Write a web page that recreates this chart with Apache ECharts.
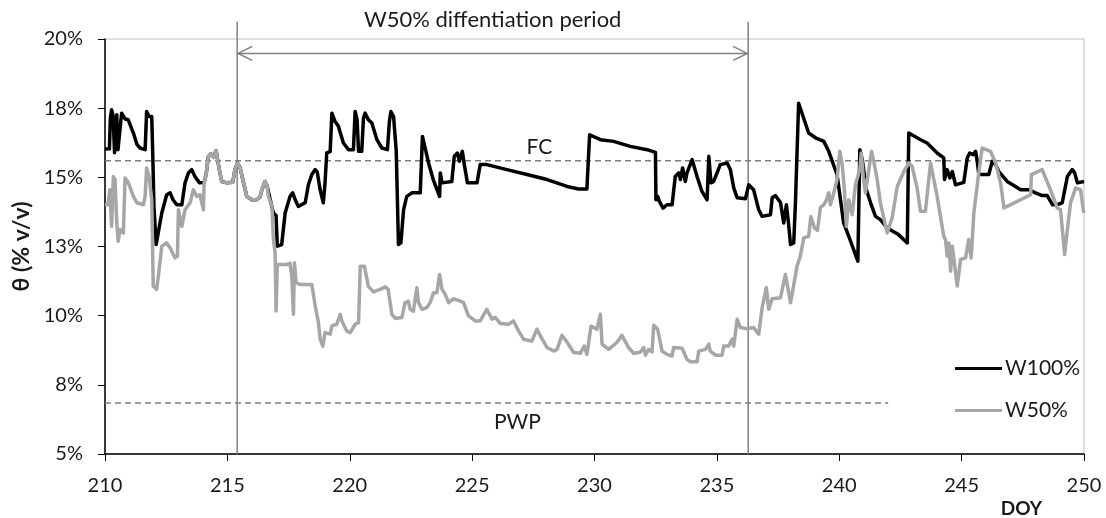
<!DOCTYPE html>
<html>
<head>
<meta charset="utf-8">
<script src="https://cdn.jsdelivr.net/npm/echarts@6/dist/echarts.min.js"></script>
<style>
  html, body { margin: 0; padding: 0; background: #fff; }
  #chart { width: 1106px; height: 518px; }
</style>
</head>
<body>
<div id="chart"></div>
<script>
// soil water content (% v/v) by day of year
const w100 = [
  [210.00, 16.02], [210.18, 16.03], [210.22, 17.15], [210.27, 17.44], [210.33, 17.22], [210.39, 15.89],
  [210.43, 15.89], [210.48, 17.26], [210.53, 16.00], [210.57, 15.93], [210.68, 17.32], [210.82, 17.11],
  [210.95, 17.08], [211.16, 16.60], [211.31, 16.18], [211.43, 16.06], [211.64, 16.00], [211.70, 17.38],
  [211.80, 17.20], [211.91, 17.20], [211.95, 15.88], [212.00, 15.82], [212.00, 13.95], [212.09, 12.57],
  [212.17, 12.64], [212.32, 13.71], [212.52, 14.37], [212.66, 14.44], [212.78, 14.19], [212.93, 14.01],
  [213.14, 14.01], [213.27, 14.80], [213.41, 15.16], [213.54, 15.28], [213.68, 15.02], [213.86, 14.80],
  [214.05, 14.81], [214.13, 15.10], [214.22, 15.74], [214.32, 15.85], [214.43, 15.74], [214.54, 15.96],
  [214.59, 15.93], [214.67, 15.28], [214.77, 14.85], [214.98, 14.80], [215.22, 14.82], [215.31, 15.28],
  [215.41, 15.52], [215.52, 15.35], [215.65, 14.85], [215.79, 14.31], [216.00, 14.19], [216.20, 14.19],
  [216.34, 14.30], [216.41, 14.55], [216.54, 14.85], [216.62, 14.70], [216.75, 14.19], [216.88, 13.71],
  [216.99, 13.62], [217.04, 12.51], [217.22, 12.57], [217.36, 13.71], [217.56, 14.31], [217.67, 14.44],
  [217.77, 14.19], [217.90, 13.95], [218.18, 14.08], [218.31, 14.73], [218.45, 15.10], [218.59, 15.28],
  [218.67, 15.20], [218.79, 14.55], [218.92, 14.08], [218.99, 14.80], [219.06, 15.88], [219.20, 15.93],
  [219.27, 17.32], [219.40, 17.02], [219.53, 16.86], [219.74, 16.24], [219.95, 16.00], [220.15, 16.00],
  [220.22, 17.38], [220.30, 17.08], [220.36, 15.94], [220.49, 15.94], [220.56, 17.14], [220.63, 17.32],
  [220.76, 17.08], [220.90, 16.97], [221.11, 16.36], [221.31, 16.06], [221.54, 16.00], [221.62, 17.02],
  [221.68, 17.38], [221.79, 17.20], [221.90, 15.94], [221.95, 15.89], [221.99, 12.57], [222.09, 12.63],
  [222.20, 13.83], [222.33, 14.31], [222.54, 14.44], [222.88, 14.44], [222.97, 16.48], [223.22, 15.52],
  [223.41, 14.92], [223.67, 14.31], [223.70, 15.16], [223.77, 14.80], [224.17, 14.85], [224.27, 15.76],
  [224.40, 15.88], [224.48, 15.58], [224.60, 15.94], [224.68, 15.46], [224.81, 14.80], [225.20, 14.80],
  [225.33, 15.46], [225.60, 15.46], [226.42, 15.28], [227.24, 15.10], [228.06, 14.92], [228.88, 14.67],
  [229.35, 14.58], [229.69, 14.58], [229.80, 16.54], [230.24, 16.36], [230.78, 16.30], [231.46, 16.12],
  [232.15, 16.00], [232.49, 15.90], [232.51, 14.19], [232.58, 14.31], [232.65, 14.13], [232.80, 13.89],
  [232.96, 14.01], [233.17, 14.01], [233.30, 15.03], [233.44, 15.16], [233.51, 14.92], [233.60, 15.34],
  [233.71, 14.85], [233.78, 15.16], [233.99, 15.64], [234.19, 15.03], [234.39, 14.49], [234.60, 14.19],
  [234.67, 15.76], [234.76, 14.80], [234.87, 14.85], [235.14, 15.46], [235.42, 15.52], [235.55, 15.28],
  [235.69, 14.62], [235.83, 14.26], [236.17, 14.23], [236.30, 14.73], [236.37, 14.80], [236.50, 14.55],
  [236.71, 13.83], [236.85, 13.59], [237.19, 13.65], [237.26, 14.26], [237.39, 14.34], [237.60, 14.09],
  [237.73, 13.35], [237.84, 14.01], [237.92, 13.40], [238.01, 12.57], [238.14, 12.63], [238.21, 14.08],
  [238.34, 17.68], [238.75, 16.60], [239.03, 16.43], [239.37, 16.30], [239.57, 15.94], [239.91, 15.10],
  [240.18, 13.35], [240.39, 12.87], [240.76, 11.97], [240.84, 16.00], [240.94, 15.64], [241.11, 14.55],
  [241.28, 14.08], [241.48, 13.59], [241.68, 13.47], [241.96, 13.17], [242.42, 12.93], [242.78, 12.63],
  [242.84, 16.60], [243.32, 16.36], [243.59, 16.24], [244.00, 15.88], [244.27, 15.70], [244.30, 14.92],
  [244.41, 15.28], [244.52, 14.98], [244.62, 15.21], [244.75, 14.73], [245.09, 14.82], [245.23, 15.70],
  [245.33, 15.88], [245.47, 15.82], [245.57, 15.94], [245.64, 15.58], [245.70, 15.10], [246.11, 15.10],
  [246.25, 15.58], [246.39, 15.46], [246.52, 15.21], [246.86, 14.85], [247.20, 14.67], [247.41, 14.55],
  [247.75, 14.55], [248.02, 14.44], [248.29, 14.34], [248.50, 14.34], [248.71, 14.01], [248.91, 14.01],
  [249.11, 14.08], [249.32, 15.03], [249.52, 15.28], [249.62, 15.16], [249.73, 14.80], [250.00, 14.85],
];

const w50 = [
  [210.00, 14.01], [210.12, 14.01], [210.20, 14.55], [210.27, 13.23], [210.34, 15.03], [210.41, 14.92],
  [210.48, 13.35], [210.54, 12.69], [210.61, 13.11], [210.75, 12.99], [210.82, 14.98], [210.95, 14.81],
  [211.16, 14.31], [211.30, 14.08], [211.57, 14.01], [211.64, 14.31], [211.70, 15.34], [211.80, 15.03],
  [211.91, 14.19], [211.97, 11.07], [212.11, 10.95], [212.18, 11.43], [212.32, 12.51], [212.52, 12.63],
  [212.66, 12.45], [212.86, 12.09], [212.96, 12.15], [213.00, 13.83], [213.14, 13.23], [213.27, 13.83],
  [213.48, 14.08], [213.61, 14.55], [213.75, 14.31], [213.88, 14.37], [214.02, 13.83], [214.05, 14.81],
  [214.13, 15.10], [214.22, 15.74], [214.32, 15.85], [214.43, 15.74], [214.54, 15.96], [214.59, 15.93],
  [214.67, 15.28], [214.77, 14.85], [214.98, 14.80], [215.22, 14.82], [215.31, 15.28], [215.41, 15.52],
  [215.52, 15.35], [215.65, 14.85], [215.79, 14.31], [216.00, 14.19], [216.20, 14.19], [216.34, 14.30],
  [216.41, 14.55], [216.54, 14.85], [216.62, 14.70], [216.68, 14.31], [216.82, 13.95], [216.88, 12.75],
  [216.95, 12.28], [216.99, 10.17], [217.04, 11.85], [217.43, 11.85], [217.56, 11.89], [217.63, 11.43],
  [217.70, 10.05], [217.74, 11.91], [217.81, 11.19], [217.97, 11.13], [218.45, 11.13], [218.59, 10.35],
  [218.72, 9.75], [218.79, 9.15], [218.90, 8.90], [218.99, 9.39], [219.20, 9.33], [219.27, 9.63],
  [219.47, 9.69], [219.61, 10.05], [219.68, 9.81], [219.88, 9.44], [220.02, 9.39], [220.22, 9.69],
  [220.36, 9.75], [220.43, 11.79], [220.60, 11.79], [220.76, 11.06], [220.97, 10.86], [221.24, 10.95],
  [221.45, 11.04], [221.57, 10.95], [221.72, 10.05], [221.86, 9.90], [222.13, 9.93], [222.26, 10.47],
  [222.39, 10.52], [222.47, 10.23], [222.60, 10.16], [222.74, 11.01], [222.81, 10.47], [222.95, 10.23],
  [223.15, 10.29], [223.29, 10.48], [223.42, 10.83], [223.56, 10.83], [223.67, 11.49], [223.77, 10.95],
  [223.90, 10.77], [224.04, 10.47], [224.24, 10.61], [224.44, 10.55], [224.65, 10.47], [224.85, 9.99],
  [225.13, 9.81], [225.33, 9.81], [225.60, 10.23], [225.81, 9.87], [225.94, 9.94], [226.15, 9.72],
  [226.49, 9.69], [226.69, 9.81], [226.90, 9.44], [227.10, 9.15], [227.44, 9.08], [227.65, 9.51],
  [227.85, 9.17], [228.06, 8.85], [228.33, 8.72], [228.47, 8.78], [228.67, 9.29], [228.88, 9.04],
  [229.15, 8.67], [229.42, 8.64], [229.58, 8.90], [229.69, 8.60], [229.86, 9.63], [230.10, 9.51],
  [230.24, 10.05], [230.31, 8.97], [230.58, 8.78], [230.92, 9.04], [231.12, 9.29], [231.39, 8.85],
  [231.60, 8.64], [231.87, 8.68], [232.01, 8.85], [232.08, 8.57], [232.21, 8.78], [232.35, 8.69],
  [232.42, 9.65], [232.58, 9.51], [232.76, 8.72], [232.96, 8.60], [233.17, 8.54], [233.23, 8.85],
  [233.58, 8.82], [233.78, 8.42], [233.92, 8.33], [234.19, 8.33], [234.26, 8.72], [234.53, 8.78],
  [234.67, 8.97], [234.73, 8.72], [234.94, 8.57], [235.21, 8.57], [235.28, 8.90], [235.48, 8.90],
  [235.62, 9.15], [235.69, 8.90], [235.83, 9.87], [235.96, 9.57], [236.23, 9.53], [236.50, 9.57],
  [236.71, 9.33], [236.85, 10.29], [237.02, 11.01], [237.12, 10.23], [237.26, 10.61], [237.60, 10.65],
  [237.80, 11.49], [238.01, 10.47], [238.28, 11.81], [238.41, 12.15], [238.55, 12.81], [238.75, 12.87],
  [238.84, 13.58], [238.99, 13.17], [239.11, 13.08], [239.23, 13.91], [239.37, 14.01], [239.48, 14.19],
  [239.57, 14.44], [239.64, 14.01], [239.78, 14.45], [239.91, 14.92], [240.02, 15.94], [240.12, 15.46],
  [240.21, 14.55], [240.29, 13.23], [240.39, 14.19], [240.53, 13.65], [240.66, 14.73], [240.84, 15.28],
  [240.90, 15.88], [240.98, 15.03], [241.07, 14.44], [241.21, 15.28], [241.32, 15.94], [241.41, 15.58],
  [241.55, 14.92], [241.68, 14.08], [241.96, 12.99], [242.16, 13.53], [242.37, 14.67], [242.64, 15.21],
  [242.84, 15.52], [242.98, 15.39], [243.18, 14.62], [243.32, 13.77], [243.52, 13.77], [243.73, 15.52],
  [244.00, 14.31], [244.27, 12.87], [244.34, 12.75], [244.41, 12.15], [244.48, 12.63], [244.55, 11.61],
  [244.62, 12.51], [244.82, 11.07], [244.96, 12.03], [245.16, 12.09], [245.29, 12.75], [245.39, 12.09],
  [245.50, 13.71], [245.70, 15.16], [245.84, 16.06], [246.18, 15.94], [246.39, 15.52], [246.59, 14.80],
  [246.73, 13.89], [246.86, 13.95], [247.82, 14.37], [247.85, 15.10], [248.29, 15.28], [248.63, 14.55],
  [248.91, 13.89], [249.04, 13.83], [249.21, 12.21], [249.32, 13.11], [249.45, 14.08], [249.66, 14.62],
  [249.86, 14.55], [249.99, 13.71],
];

// field capacity and permanent wilting point reference lines
const fcLine = [[210, 15.6], [249.57, 15.6]];
const pwpLine = [[210, 6.84], [242.0, 6.84]];
const refLabels = [[227.75, 16.07], [226.85, 6.15]];
const refNames = ["FC", "PWP"];

// W50% differentiation period: start, end, arrow level, line top, text level
const period = [[215.4, 236.28, 19.48, 20.62, 20.7]];
const periodText = "W50% diffentiation period";

const seriesNames = ["W100%", "W50%"];
const yTicks = [5, 7.5, 10, 12.5, 15, 17.5, 20];

const FONT = "Lato, 'Open Sans', sans-serif";
const TEXT = "#1a1a1a";

const chart = echarts.init(document.getElementById("chart"), null, { renderer: "canvas" });

chart.setOption({
  animation: false,
  textStyle: { fontFamily: FONT },
  grid: {
    left: 105,
    right: 22,
    top: 39,
    bottom: 63,
    show: true,
    borderColor: "#bfbfbf",
    borderWidth: 1,
  },
  legend: {
    data: seriesNames,
    orient: "vertical",
    left: 950,
    top: 353,
    icon: "rect",
    itemWidth: 47,
    itemHeight: 3,
    itemGap: 21,
    textStyle: { fontSize: 21, color: TEXT, fontFamily: FONT, padding: [0, 0, 0, -2] },
  },
  xAxis: {
    type: "value",
    min: 210,
    max: 250,
    interval: 5,
    name: "DOY",
    nameLocation: "end",
    nameGap: -42,
    nameTextStyle: {
      fontSize: 19,
      fontWeight: "bold",
      color: TEXT,
      align: "right",
      verticalAlign: "top",
      padding: [45, 0, 0, 0],
    },
    axisLine: { lineStyle: { color: "#000", width: 1.5 } },
    axisTick: { show: true, inside: false, length: 7, lineStyle: { color: "#000" } },
    axisLabel: { fontSize: 20, color: TEXT, margin: 22 },
    splitLine: { show: false },
  },
  yAxis: {
    type: "value",
    min: 5,
    max: 20,
    interval: 2.5,
    name: "θ (% v/v)",
    nameLocation: "middle",
    nameGap: 64,
    nameTextStyle: {
      fontSize: 23,
      fontWeight: "bold",
      fontFamily: FONT,
      color: TEXT,
    },
    axisLine: { show: true, lineStyle: { color: "#000", width: 1.5 } },
    axisTick: { show: true, inside: false, length: 7, lineStyle: { color: "#000" } },
    axisLabel: {
      fontSize: 20,
      color: TEXT,
      margin: 22,
      formatter: (v) => (yTicks.includes(v) ? Math.round(v) + "%" : ""),
    },
    splitLine: { show: false },
  },
  series: [
    {
      type: "line",
      name: "FC line",
      data: fcLine,
      symbol: "none",
      silent: true,
      z: 1,
      lineStyle: { color: "#7f7f7f", width: 1.5, type: [6, 4] },
    },
    {
      type: "line",
      name: "PWP line",
      data: pwpLine,
      symbol: "none",
      silent: true,
      z: 1,
      lineStyle: { color: "#7f7f7f", width: 1.5, type: [6, 4] },
    },
    {
      type: "custom",
      name: "period",
      data: period,
      clip: false,
      silent: true,
      z: 1,
      renderItem: (params, api) => {
        const x1 = api.value(0);
        const x2 = api.value(1);
        const yArrow = api.value(2);
        const yTop = api.value(3);
        const yText = api.value(4);
        const b1 = api.coord([x1, 5]);
        const t1 = api.coord([x1, yTop]);
        const b2 = api.coord([x2, 5]);
        const t2 = api.coord([x2, yTop]);
        const a1 = api.coord([x1, yArrow]);
        const a2 = api.coord([x2, yArrow]);
        const mid = api.coord([(x1 + x2) / 2, yText]);
        const stroke = { stroke: "#808080", lineWidth: 1.5, fill: null };
        return {
          type: "group",
          children: [
            { type: "line", shape: { x1: b1[0], y1: b1[1], x2: t1[0], y2: t1[1] }, style: stroke },
            { type: "line", shape: { x1: b2[0], y1: b2[1], x2: t2[0], y2: t2[1] }, style: stroke },
            { type: "line", shape: { x1: a1[0], y1: a1[1], x2: a2[0], y2: a2[1] }, style: stroke },
            {
              type: "polyline",
              shape: { points: [[a1[0] + 15, a1[1] - 7], [a1[0] + 1, a1[1]], [a1[0] + 15, a1[1] + 7]] },
              style: stroke,
            },
            {
              type: "polyline",
              shape: { points: [[a2[0] - 15, a2[1] - 7], [a2[0] - 1, a2[1]], [a2[0] - 15, a2[1] + 7]] },
              style: stroke,
            },
            {
              type: "text",
              style: {
                text: periodText,
                x: mid[0],
                y: mid[1],
                align: "center",
                verticalAlign: "middle",
                fontSize: 22,
                fontFamily: FONT,
                fill: TEXT,
              },
            },
          ],
        };
      },
    },
    {
      type: "custom",
      name: "ref labels",
      data: refLabels,
      clip: false,
      silent: true,
      z: 1,
      renderItem: (params, api) => {
        const p = api.coord([api.value(0), api.value(1)]);
        return {
          type: "text",
          style: {
            text: refNames[params.dataIndex],
            x: p[0],
            y: p[1],
            align: "center",
            verticalAlign: "middle",
            fontSize: 21,
            fontFamily: FONT,
            fill: TEXT,
          },
        };
      },
    },
    {
      type: "line",
      name: seriesNames[0],
      data: w100,
      symbol: "none",
      showSymbol: false,
      z: 3,
      color: "#000000",
      lineStyle: { color: "#000000", width: 3.5, join: "round" },
    },
    {
      type: "line",
      name: seriesNames[1],
      data: w50,
      symbol: "none",
      showSymbol: false,
      z: 3,
      color: "#a6a6a6",
      lineStyle: { color: "#a6a6a6", width: 3.5, join: "round" },
    },
  ],
});
</script>
</body>
</html>
